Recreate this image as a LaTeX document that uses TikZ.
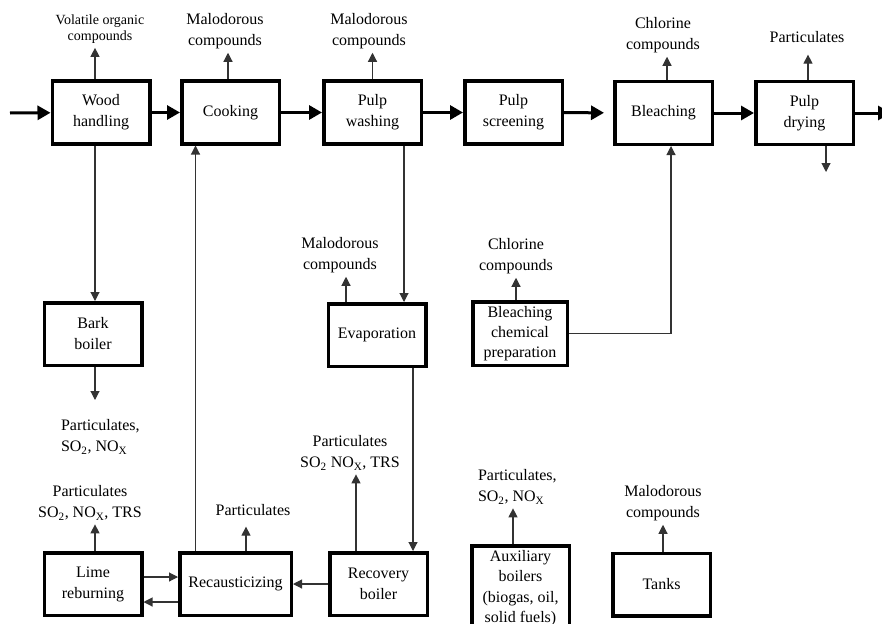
\documentclass[tikz,border=0pt]{standalone}
\usepackage{fontspec}
\setmainfont{Liberation Serif}
\usetikzlibrary{arrows.meta}

\begin{document}
\begin{tikzpicture}[x=1pt, y=-1pt,
    box/.style={draw, line width=3.5pt, minimum width=97.5pt, minimum height=62.5pt,
      align=center, inner sep=1pt, font=\fontsize{16}{21}\selectfont},
    lab/.style={align=center, inner sep=2pt, outer sep=2pt, font=\fontsize{16}{21}\selectfont},
    flow/.style={line width=3pt, -{Triangle[length=13pt,width=14pt]}},
    emit/.style={line width=1.1pt, draw=black!80, -{Triangle[length=9pt,width=9pt]}}]
  \useasboundingbox (0,0) rectangle (882,623);

  % main line
  \node[box] (wood)   at (101,112.5)   {Wood\\handling};
  \node[box] (cook)   at (230.5,112.5) {Cooking};
  \node[box] (wash)   at (372.5,112.5) {Pulp\\washing};
  \node[box] (screen) at (513.5,112.5) {Pulp\\screening};
  \node[box] (bleach) at (663.5,113)   {Bleaching};
  \node[box] (dry)    at (804.5,113)   {Pulp\\drying};

  % side units
  \node[box] (bark) at (93,334)  {Bark\\boiler};
  \node[box] (evap) at (377,335) {Evaporation};
  \node[box, minimum width=94.5pt, minimum height=63.5pt, inner sep=0pt,
    font=\fontsize{16}{20}\selectfont] (chemprep) at (520,333.5) {Bleaching\\chemical\\preparation};
  \node[box] (lime)    at (93,584)    {Lime\\reburning};
  \node[box, minimum width=111.5pt] (recaust) at (235.5,584) {Recausticizing};
  \node[box] (recov)   at (378.5,584) {Recovery\\boiler};
  \node[box, minimum height=84pt, font=\fontsize{16}{20.5}\selectfont] (aux) at (520.5,588)
    {Auxiliary\\boilers\\(biogas, oil,\\solid fuels)};
  \node[box] (tanks)   at (661.5,584.5) {Tanks};

  % emissions
  \node[lab, font=\fontsize{14}{16}\selectfont] (woodlab) at (100,29.5) {Volatile organic\\compounds};
  \node[lab] (cooklab)    at (225,31)  {Malodorous\\compounds};
  \node[lab] (washlab)    at (369,31)  {Malodorous\\compounds};
  \node[lab] (bleachlab)  at (663,35)  {Chlorine\\compounds};
  \node[lab] (drylab)     at (807,37)  {Particulates};
  \node[lab, align=left, anchor=west] (barklab) at (57,437)
    {Particulates,\\SO\textsubscript{2}, NO\textsubscript{X}};
  \node[lab] (evaplab)    at (340,255) {Malodorous\\compounds};
  \node[lab] (chemlab)    at (516,256) {Chlorine\\compounds};
  \node[lab] (limelab)    at (90,503)  {Particulates\\SO\textsubscript{2}, NO\textsubscript{X}, TRS};
  \node[lab] (recaustlab) at (253,510) {Particulates};
  \node[lab] (recovlab)   at (350,453) {Particulates\\SO\textsubscript{2} NO\textsubscript{X}, TRS};
  \node[lab, align=left, anchor=west] (auxlab) at (474,487)
    {Particulates,\\SO\textsubscript{2}, NO\textsubscript{X}};
  \node[lab] (tankslab)   at (663,503) {Malodorous\\compounds};

  \coordinate (in)      at (10,113);
  \coordinate (out)     at (891,113);
  \coordinate (barkout) at (95,400);
  \coordinate (dryout)  at (826,172);

  \draw[flow] (in) -- (wood);
  \draw[flow] (wood) -- (cook);
  \draw[flow] (cook) -- (wash);
  \draw[flow] (wash) -- (screen);
  \draw[flow, shorten >=9pt] (screen) -- (bleach);
  \draw[flow] (bleach) -- (dry);
  \draw[flow] (dry) -- (out);

  \draw[emit] ([xshift=-6pt]wood.north)    -- ([xshift=-6pt]wood.north |- woodlab.south);
  \draw[emit] ([xshift=-2.5pt]cook.north)  -- ([xshift=-2.5pt]cook.north |- cooklab.south);
  \draw[emit] (wash.north)                 -- (wash.north |- washlab.south);
  \draw[emit] ([xshift=3.5pt]bleach.north) -- ([xshift=3.5pt]bleach.north |- bleachlab.south);
  \draw[emit, shorten >=8pt] ([xshift=3.5pt]dry.north) -- ([xshift=3.5pt]dry.north |- drylab.south);
  \draw[emit] ([xshift=21.5pt]dry.south)   -- (dryout);
  \draw[emit] ([xshift=2pt]bark.south)     -- (barkout);
  \draw[emit] ([xshift=-31pt]evap.north)   -- ([xshift=-31pt]evap.north |- evaplab.south);
  \draw[emit] ([xshift=-4pt]chemprep.north) -- ([xshift=-4pt]chemprep.north |- chemlab.south);
  \draw[emit] ([xshift=2pt]lime.north)     -- ([xshift=2pt]lime.north |- limelab.south);
  \draw[emit, shorten >=7pt] ([xshift=10.5pt]recaust.north) -- ([xshift=10.5pt]recaust.north |- recaustlab.south);
  \draw[emit] ([xshift=-22.5pt]recov.north) -- ([xshift=-22.5pt]recov.north |- recovlab.south);
  \draw[emit] ([xshift=-7.5pt]aux.north)   -- ([xshift=-7.5pt]aux.north |- auxlab.south);
  \draw[emit] ([xshift=1.5pt]tanks.north)  -- ([xshift=1.5pt]tanks.north |- tankslab.south);

  % liquor and chemical loops
  \draw[emit] ([xshift=2pt]bark.north |- wood.south) -- ([xshift=2pt]bark.north);
  \draw[emit] ([xshift=-40pt]recaust.north) -- ([xshift=-40pt]recaust.north |- cook.south);
  \draw[emit] ([xshift=31.5pt]wash.south) -- ([xshift=31.5pt]wash.south |- evap.north);
  \draw[emit] ([xshift=36pt]evap.south) -- ([xshift=36pt]evap.south |- recov.north);
  \draw[emit] (chemprep.east) -| ([xshift=7.5pt]bleach.south);
  \draw[emit] ([yshift=7pt]lime.east) -- ([yshift=7pt]lime.east -| recaust.west);
  \draw[emit] ([yshift=-18pt]recaust.west) -- ([yshift=-18pt]recaust.west -| lime.east);
  \draw[emit] (recov) -- (recaust);
\end{tikzpicture}
\end{document}
